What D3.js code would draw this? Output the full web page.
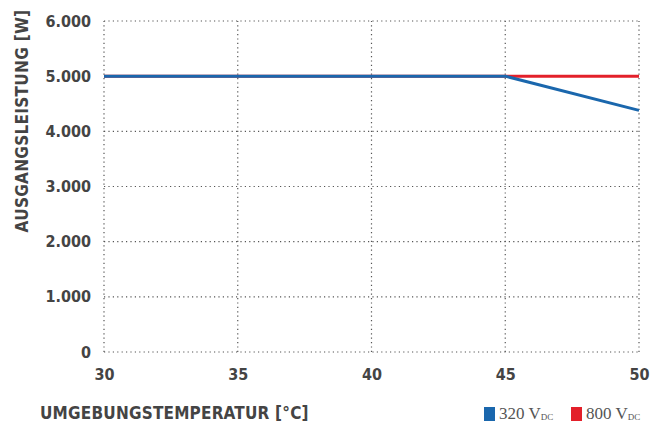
<!DOCTYPE html>
<html><head><meta charset="utf-8">
<script src="https://cdn.jsdelivr.net/npm/d3@7"></script>
<style>body{margin:0;background:#fff}svg{display:block}</style>
</head><body>
<svg id="c" width="650" height="422"></svg>
<script>
const temps = [30, 45, 50];
const series320 = [5000, 5000, 4380];
const series800 = [5000, 5000, 5000];
const xTicks = [30, 35, 40, 45, 50];
const yTicks = [0, 1000, 2000, 3000, 4000, 5000, 6000];
const seriesNames = ["320 V", "800 V"];
const colors = ["#1a67ad", "#e3202a"];

const svg = d3.select("#c");
const x = d3.scaleLinear().domain([30, 50]).range([104, 639]);
const y = d3.scaleLinear().domain([0, 6000]).range([352, 21]);
const fmt = v => v === 0 ? "0" : d3.format(",")(v).replace(/,/g, ".");
const font = "'Liberation Sans Narrow','DejaVu Sans Condensed',sans-serif";
const grey = "#444";

// grid
svg.append("g").selectAll("line").data(yTicks).join("line")
  .attr("x1", x(30)).attr("x2", x(50)).attr("y1", d => y(d)).attr("y2", d => y(d))
  .attr("stroke", "#555").attr("stroke-width", 1.2).attr("stroke-dasharray", "1.2,3.2");
svg.append("g").selectAll("line").data(xTicks).join("line")
  .attr("y1", y(0)).attr("y2", y(6000)).attr("x1", d => x(d)).attr("x2", d => x(d))
  .attr("stroke", "#555").attr("stroke-width", 1.2).attr("stroke-dasharray", "1.2,3.2");

// axis labels
const yAxis = d3.axisLeft(y).tickValues(yTicks).tickFormat(fmt).tickSize(0).tickPadding(13);
const gy = svg.append("g").attr("transform", `translate(${x(30)},0)`).call(yAxis);
gy.select(".domain").remove();
gy.selectAll("text").attr("font-family", font).attr("font-weight", "bold")
  .attr("font-size", 16).attr("fill", grey);

const xAxis = d3.axisBottom(x).tickValues(xTicks).tickFormat(d3.format("d")).tickSize(0).tickPadding(17);
const gx = svg.append("g").attr("transform", `translate(0,${y(0)})`).call(xAxis);
gx.select(".domain").remove();
gx.selectAll("text").attr("font-family", font).attr("font-weight", "bold")
  .attr("font-size", 16).attr("fill", grey);

// lines
const line = d3.line().x((d, i) => x(temps[i])).y(d => y(d));
svg.append("path").datum(series800).attr("d", line).attr("fill", "none")
  .attr("stroke", colors[1]).attr("stroke-width", 3);
svg.append("path").datum(series320).attr("d", line).attr("fill", "none")
  .attr("stroke", colors[0]).attr("stroke-width", 3);

// titles
svg.append("text").attr("x", 40).attr("y", 419).text("UMGEBUNGSTEMPERATUR [°C]")
  .attr("font-family", font).attr("font-weight", "bold").attr("font-size", 17)
  .attr("fill", grey).attr("letter-spacing", 0.2);
svg.append("text").attr("transform", "translate(28,121) rotate(-90)")
  .attr("text-anchor", "middle").text("AUSGANGSLEISTUNG [W]")
  .attr("font-family", font).attr("font-weight", "bold").attr("font-size", 17)
  .attr("fill", grey).attr("letter-spacing", 0.3);

// legend
const lx = [484, 571];
seriesNames.forEach((n, i) => {
  svg.append("rect").attr("x", lx[i]).attr("y", 407).attr("width", 11).attr("height", 14)
    .attr("fill", colors[i]);
  const t = svg.append("text").attr("x", lx[i] + 15).attr("y", 419)
    .attr("font-family", "'Liberation Serif','DejaVu Serif',serif").attr("font-size", 17)
    .attr("fill", "#555");
  t.append("tspan").text(n);
  t.append("tspan").text("DC").attr("font-size", 9).attr("dy", 1);
});
</script>
</body></html>
